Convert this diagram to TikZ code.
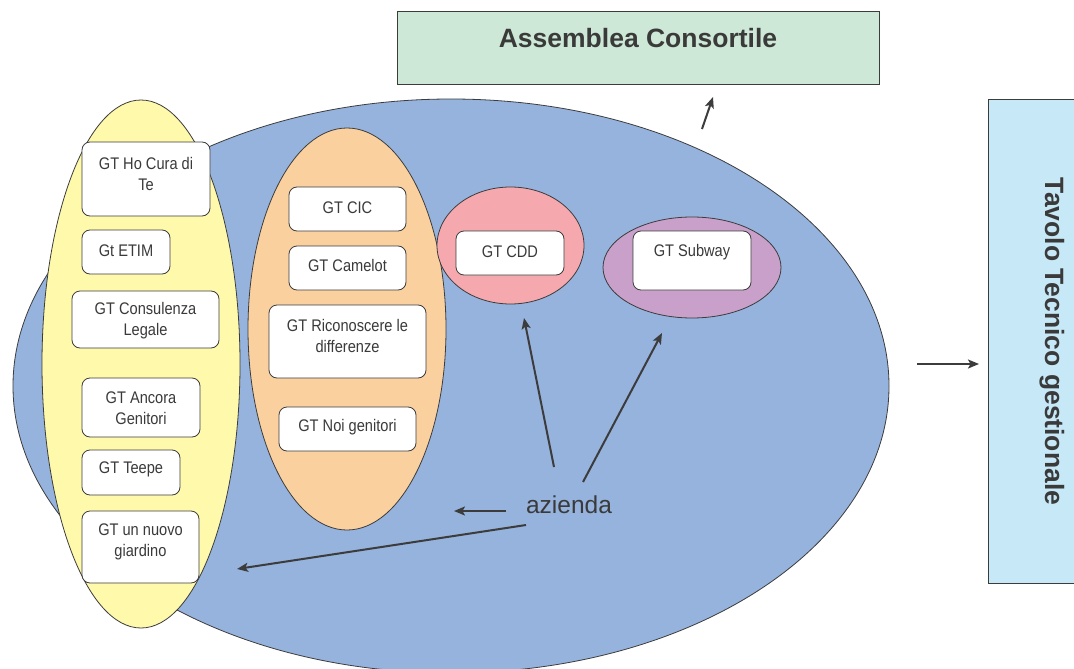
\documentclass[tikz,border=0pt]{standalone}
\usepackage{fontspec}
\setmainfont{Liberation Sans}
\newfontfamily\gtfam[FakeStretch=0.87]{Liberation Sans}
\usetikzlibrary{shapes.geometric,arrows.meta}
\definecolor{bigblue}{HTML}{95B3DD}
\definecolor{yel}{HTML}{FFF9AB}
\definecolor{ora}{HTML}{FAD09F}
\definecolor{pnk}{HTML}{F5A9AE}
\definecolor{pur}{HTML}{C8A0C9}
\definecolor{grn}{HTML}{CDE8D6}
\definecolor{lblue}{HTML}{C6E8F7}
\definecolor{ln}{HTML}{3C3C3C}
\definecolor{txt}{HTML}{3A3A3A}
\tikzset{
  ell/.style={ellipse, draw=ln, line width=0.8pt, inner sep=0pt},
  gtbox/.style={draw=ln, fill=white, rounded corners=8pt, line width=0.8pt, inner sep=0pt},
  lbl/.style={font=\gtfam\fontsize{16.8}{21}\selectfont, text=txt, align=center, inner sep=0pt},
  bigbox/.style={draw=ln, line width=0.8pt, inner sep=0pt},
  big/.style={font=\bfseries\fontsize{26.5}{30}\selectfont, text=txt, inner sep=0pt},
  arr/.style={draw=ln, line width=2pt, -{Stealth[length=11pt,width=9pt,inset=2.5pt]}}
}
\begin{document}
\begin{tikzpicture}[x=1pt,y=-1pt]
\useasboundingbox (0,0) rectangle (1074,669);
\clip (0,0) rectangle (1074,669);
\fill[white] (0,0) rectangle (1074,669);
% big ellipse
\node[ell, fill=bigblue, minimum width=876, minimum height=574] (bigell) at (451,386) {};
% sub ellipses
\node[ell, fill=yel, minimum width=198, minimum height=528] (yell) at (141,364) {};
\node[ell, fill=ora, minimum width=198, minimum height=402] (oell) at (347,329) {};
\node[ell, fill=pnk, minimum width=147, minimum height=117] (pell) at (510.5,245.5) {};
\node[ell, fill=pur, minimum width=178, minimum height=101] (uell) at (692,267.5) {};
% yellow boxes
\node[gtbox, minimum width=128, minimum height=74] (b1) at (146,179) {};
\node[lbl] (t1) at (146,174) {GT Ho Cura di\\Te};
\node[gtbox, minimum width=88, minimum height=44] (b2) at (126,252) {};
\node[lbl] (t2) at (126,250.5) {Gt ETIM};
\node[gtbox, minimum width=147, minimum height=57] (b3) at (145.5,319.5) {};
\node[lbl] (t3) at (145.5,320.5) {GT Consulenza\\Legale};
\node[gtbox, minimum width=118, minimum height=59] (b4) at (141,407.5) {};
\node[lbl] (t4) at (141,408) {GT Ancora\\Genitori};
\node[gtbox, minimum width=98, minimum height=45] (b5) at (131,472.5) {};
\node[lbl] (t5) at (131,469.5) {GT Teepe};
\node[gtbox, minimum width=117, minimum height=72] (b6) at (140.5,547) {};
\node[lbl] (t6) at (140.5,541.5) {GT un nuovo\\giardino};
% orange boxes
\node[gtbox, minimum width=117, minimum height=44] (c1) at (347.5,209) {};
\node[lbl] (s1) at (347.5,207.5) {GT CIC};
\node[gtbox, minimum width=117, minimum height=44] (c2) at (347.5,268) {};
\node[lbl] (s2) at (347.5,265.5) {GT Camelot};
\node[gtbox, minimum width=157, minimum height=73] (c3) at (347.5,341.5) {};
\node[lbl] (s3) at (347.5,336) {GT Riconoscere le\\differenze};
\node[gtbox, minimum width=137, minimum height=44] (c4) at (347.5,429) {};
\node[lbl] (s4) at (347.5,427.5) {GT Noi genitori};
% pink and purple boxes
\node[gtbox, minimum width=108, minimum height=44] (d1) at (510,253) {};
\node[lbl] (u1) at (510,251.5) {GT CDD};
\node[gtbox, minimum width=118, minimum height=59] (d2) at (692,260.5) {};
\node[lbl] (u2) at (692,252.5) {GT Subway};
% top box
\node[bigbox, fill=grn, minimum width=482, minimum height=73] (assbox) at (638,47.5) {};
\node[big] (asstxt) at (638,38) {Assemblea Consortile};
% right box
\node[bigbox, fill=lblue, minimum width=100, minimum height=484] (tavbox) at (1038,341) {};
\node[big, rotate=-90] (tavtxt) at (1052,341.5) {Tavolo Tecnico gestionale};
% azienda
\node[font=\fontsize{24.5}{28}\selectfont, text=txt, inner sep=0pt] (az) at (569,505) {azienda};
% arrow coordinates
\coordinate (a1) at (554,467);
\coordinate (e1) at (524,318);
\coordinate (a2) at (583,482);
\coordinate (e2) at (662,333);
\coordinate (a3) at (506,511);
\coordinate (e3) at (454,511);
\coordinate (a4) at (526,525);
\coordinate (e4) at (237,569);
\coordinate (a5) at (702,129);
\coordinate (e5) at (713,97);
\coordinate (a6) at (917,364);
\coordinate (e6) at (979,364);
\draw[arr] (a1) -- (e1);
\draw[arr] (a2) -- (e2);
\draw[arr] (a3) -- (e3);
\draw[arr] (a4) -- (e4);
\draw[arr] (a5) -- (e5);
\draw[arr] (a6) -- (e6);
\end{tikzpicture}
\end{document}
